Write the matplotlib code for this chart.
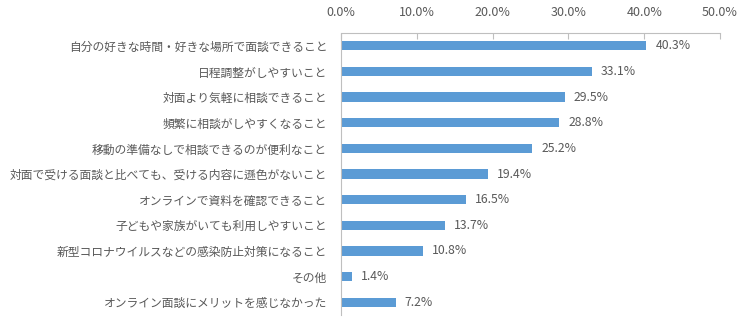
import matplotlib
matplotlib.use("Agg")
from matplotlib import pyplot as plt
from matplotlib.ticker import FuncFormatter

plt.rcParams['font.family'] = ['Noto Sans CJK JP', 'DejaVu Sans']

# 項目と割合(%)
labels = [
    "自分の好きな時間・好きな場所で面談できること",
    "日程調整がしやすいこと",
    "対面より気軽に相談できること",
    "頻繁に相談がしやすくなること",
    "移動の準備なしで相談できるのが便利なこと",
    "対面で受ける面談と比べても、受ける内容に遜色がないこと",
    "オンラインで資料を確認できること",
    "子どもや家族がいても利用しやすいこと",
    "新型コロナウイルスなどの感染防止対策になること",
    "その他",
    "オンライン面談にメリットを感じなかった",
]
values = [40.3, 33.1, 29.5, 28.8, 25.2, 19.4, 16.5, 13.7, 10.8, 1.4, 7.2]
xticks = [0, 10, 20, 30, 40, 50]

gray = "#595959"
fig = plt.figure(figsize=(7.49, 3.31), dpi=100)
ax = fig.add_axes([0.4553, 0.0483, 0.506, 0.852])

ypos = list(range(len(values)))
ax.barh(ypos, values, height=0.36, color="#5B9BD5")
ax.set_ylim(len(values) - 0.5, -0.5)
ax.set_xlim(0, 50)

for y, v in zip(ypos, values):
    ax.text(v + 1.2, y, f"{v:.1f}%", va="center", ha="left", fontsize=8.8, color=gray)

ax.set_yticks(ypos)
ax.set_yticklabels(labels, fontsize=8.5, color=gray)
ax.tick_params(axis="y", length=0, pad=10)

ax.xaxis.tick_top()
ax.set_xticks(xticks)
ax.xaxis.set_major_formatter(FuncFormatter(lambda x, p: f"{x:.1f}%"))
ax.tick_params(axis="x", direction="in", length=4, color="#BFBFBF", labelsize=9,
               labelcolor=gray, pad=10)

for s in ["right", "bottom"]:
    ax.spines[s].set_visible(False)
ax.spines["top"].set_color("#BFBFBF")
ax.spines["left"].set_color("#BFBFBF")
ax.spines["left"].set_linestyle((0, (1, 1)))

fig.savefig("out.png", dpi=100)
